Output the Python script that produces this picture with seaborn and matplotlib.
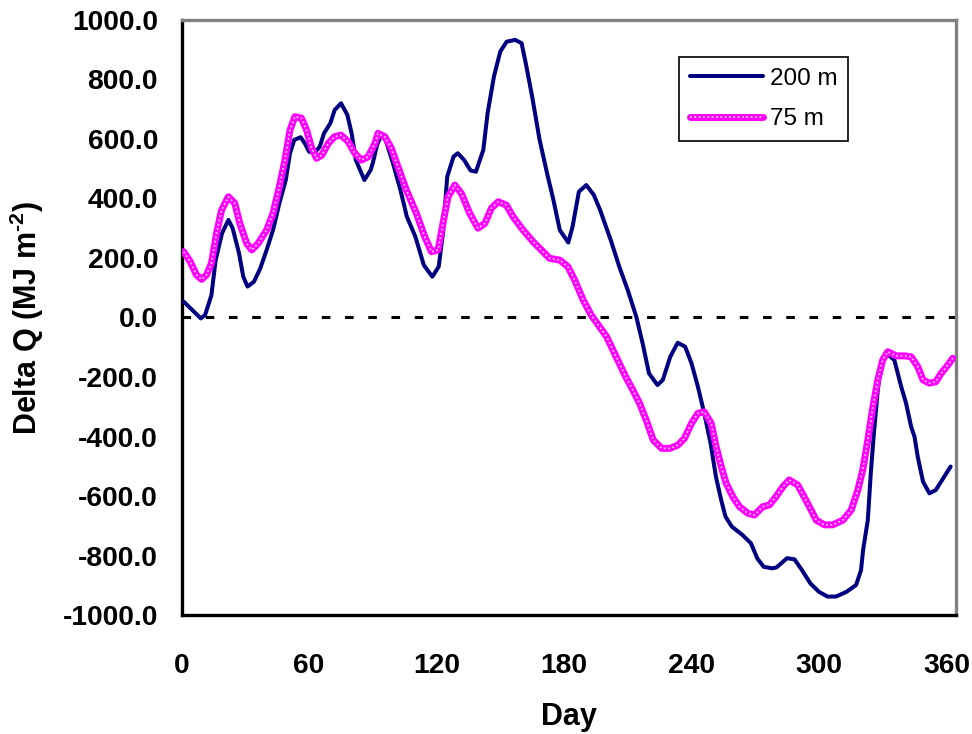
import matplotlib
matplotlib.use("Agg")
import matplotlib.pyplot as plt
import numpy as np
import pandas as pd
import seaborn as sns

# Cumulative heat content change through the year at two depths
day_200m = [1, 9, 11, 14, 16, 19, 22, 24, 27, 29, 31, 34, 37, 40, 43, 46, 49, 51,
            53, 56, 58, 60, 63, 65, 67, 70, 72, 75, 78, 80, 82, 85, 86, 89, 90,
            92, 94, 96, 99.5, 103, 106, 110, 114, 118, 121, 123, 125, 128, 130,
            133, 136, 138.5, 142, 144, 147, 150, 153, 157, 160, 162, 165, 168.5,
            172, 175, 178, 182, 184, 187, 190.5, 194, 197, 200, 202, 206, 210,
            214, 217, 220, 224, 226.5, 230, 233.5, 237, 240, 243, 246, 249,
            251.5, 254, 256, 259, 264, 268, 271, 274, 278, 280, 285, 288.5, 292,
            296, 300, 304, 308, 313, 317.5, 319.8, 320.8, 323, 324.5, 326, 327.7,
            329.3, 331.6, 335.5, 338.7, 341, 343.4, 345, 346.5, 349, 352, 355,
            358, 362]
dq_200m = [53, -3, 8, 75, 193, 283, 328, 300, 216, 137, 104, 120, 165, 227, 294,
           384, 462, 552, 597, 606, 585, 557, 557, 574, 619, 653, 697, 720, 681,
           619, 529, 479, 462, 496, 520, 580, 613, 597, 518, 428, 339, 272, 176,
           137, 171, 283, 473, 541, 552, 529, 494, 490, 563, 686, 810, 894, 927,
           933, 922, 854, 742, 597, 485, 395, 294, 252, 305, 423, 445, 412, 361,
           300, 260, 171, 92, 3, -87, -188, -227, -210, -132, -85, -98, -154,
           -232, -322, -423, -535, -614, -669, -703, -731, -759, -810, -838,
           -843, -840, -809, -813, -849, -894, -922, -938, -938, -922, -899,
           -849, -781, -681, -513, -378, -244, -154, -120, -143, -232, -288,
           -367, -401, -468, -552, -591, -580, -546, -501]

day_75m = [1, 4, 7, 9.4, 11.7, 14, 16.4, 18.8, 22, 25, 27.4, 30.6, 33, 36, 40,
           43, 46, 48.6, 51, 53.3, 56.4, 58.8, 61, 63.5, 66, 69, 72, 75, 78.4,
           81.5, 84.6, 87.8, 91, 92.4, 95.6, 98.7, 101.8, 105.8, 110.5, 114.4,
           117.6, 120.7, 123, 125.4, 128.6, 131.7, 135.6, 139.5, 142.7, 145.8,
           149, 152.8, 156, 160.7, 165.4, 169.3, 173.2, 178, 181.8, 185, 189,
           192.8, 196.7, 200, 203, 206, 209, 212.4, 215.6, 218.7, 222, 226,
           229.7, 233.6, 236.7, 240, 243, 246, 249.3, 251.6, 254, 256.3, 259.4,
           262.6, 266.5, 269.6, 273.5, 276.7, 279.8, 283, 286, 290, 293, 296.3,
           298.7, 302.6, 306.5, 311.3, 315.2, 318.3, 320.6, 323, 325.4, 327.7,
           330, 332.4, 336.4, 340.3, 343.4, 346.5, 349, 352, 355, 357.5, 360.7,
           363]
dq_75m = [221, 188, 143, 128, 143, 182, 283, 361, 406, 384, 316, 249, 227, 249,
          294, 350, 440, 529, 630, 675, 670, 630, 574, 535, 546, 585, 608, 613,
          591, 552, 529, 540, 585, 619, 608, 569, 507, 428, 350, 272, 221, 227,
          316, 406, 445, 417, 350, 300, 316, 367, 389, 378, 339, 294, 255, 227,
          199, 193, 171, 126, 59, 8, -31, -64, -109, -154, -199, -244, -289,
          -345, -412, -440, -440, -429, -406, -356, -322, -317, -356, -434,
          -501, -557, -602, -636, -658, -664, -636, -630, -602, -569, -546,
          -563, -602, -647, -681, -697, -697, -681, -647, -580, -513, -412,
          -300, -210, -143, -115, -129, -129, -132, -165, -210, -221, -216,
          -188, -160, -137]

x_ticks = [0, 60, 120, 180, 240, 300, 360]
y_ticks = [-1000, -800, -600, -400, -200, 0, 200, 400, 600, 800, 1000]
series_labels = ["200 m", "75 m"]

sns.set_theme(style="white")
plt.rcParams["font.family"] = ["Liberation Sans", "DejaVu Sans"]
plt.rcParams["mathtext.fontset"] = "custom"
plt.rcParams["mathtext.rm"] = "Liberation Sans:bold"
plt.rcParams["mathtext.it"] = "Liberation Sans:bold"
plt.rcParams["mathtext.bf"] = "Liberation Sans:bold"
plt.rcParams["text.color"] = "black"
plt.rcParams["axes.labelcolor"] = "black"

df_200 = pd.DataFrame({"Day": day_200m, "DeltaQ": dq_200m, "Series": series_labels[0]})
df_75 = pd.DataFrame({"Day": day_75m, "DeltaQ": dq_75m, "Series": series_labels[1]})

fig = plt.figure(figsize=(9.72, 7.34), dpi=100)
ax = fig.add_axes([0.1869, 0.1621, 0.7966, 0.8107])

navy = "#000080"
magenta = "#FF00FF"

ax.axhline(0, color="black", lw=2.2, ls=(0, (2.8, 4.8)), zorder=1)

sns.lineplot(data=df_200, x="Day", y="DeltaQ", ax=ax, color=navy, lw=2.9,
             sort=False, estimator=None, zorder=3)
sns.lineplot(data=df_75, x="Day", y="DeltaQ", ax=ax, color=magenta, lw=5.0,
             sort=False, estimator=None, zorder=4)
# light dotted core gives the 75 m line its chained-square look
ax.plot(df_75["Day"], df_75["DeltaQ"], color="#FFC8FF", lw=1.3,
        ls=(0, (1, 1.4)), zorder=5)

ax.set_xlim(0, 364.5)
ax.set_ylim(-1000, 1000)
ax.set_xticks(x_ticks)
ax.set_yticks(y_ticks)
ax.set_xticklabels([str(t) for t in x_ticks])
ax.set_yticklabels([f"{t:.1f}" for t in y_ticks])

for lab in ax.get_xticklabels() + ax.get_yticklabels():
    lab.set_fontsize(20.3)
    lab.set_fontweight("bold")
    lab.set_color("black")

ax.tick_params(axis="both", direction="out", length=7, width=2.2, color="black")
ax.tick_params(axis="x", pad=20)
ax.tick_params(axis="y", pad=10)

for side in ["left", "bottom"]:
    ax.spines[side].set_color("black")
    ax.spines[side].set_linewidth(2.4)
for side in ["top", "right"]:
    ax.spines[side].set_color("#808080")
    ax.spines[side].set_linewidth(2.4)

ax.set_xlabel("Day", fontsize=22, fontweight="bold", color="black", labelpad=17)
ax.set_ylabel(r"Delta Q (MJ m$^{\text{-2}}$)", fontsize=22, fontweight="bold",
              color="black", labelpad=12)

h200 = plt.Line2D([], [], color=navy, lw=2.9)
h75a = plt.Line2D([], [], color=magenta, lw=5.0)
h75b = plt.Line2D([], [], color="#FFC8FF", lw=1.3, ls=(0, (1, 1.4)))
leg = ax.legend([h200, (h75a, h75b)], series_labels, loc="upper left",
                bbox_to_anchor=(0.642, 0.938), borderaxespad=0, fontsize=17.5,
                frameon=True, fancybox=False, handlelength=3.0,
                handletextpad=0.3, labelspacing=0.75, borderpad=0.45)
for t in leg.get_texts():
    t.set_color("black")
leg.get_frame().set_edgecolor("black")
leg.get_frame().set_linewidth(1.2)
leg.get_frame().set_alpha(1)

fig.savefig("out.png", dpi=100)
